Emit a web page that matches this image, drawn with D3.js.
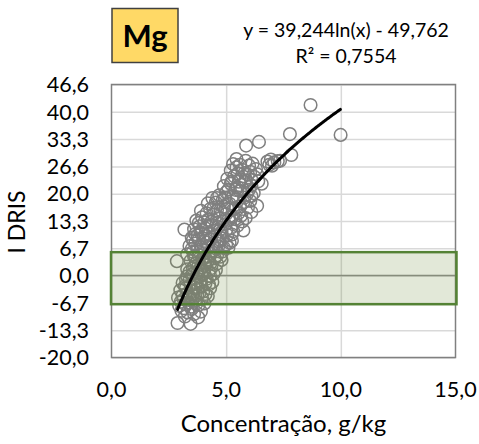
<!DOCTYPE html>
<html>
<head>
<meta charset="utf-8">
<script src="https://cdn.jsdelivr.net/npm/d3@7"></script>
<style>
  html, body { margin: 0; padding: 0; background: #fff; }
  text { font-family: Lato, "Open Sans", sans-serif; fill: #000; }
</style>
</head>
<body>
<svg id="chart" width="479" height="444"></svg>
<script>
// Mg concentration in leaf tissue (g/kg) and the matching DRIS index
const concentracao = [
  2.88, 3.45, 3.78, 3.20, 3.32, 3.60, 3.05, 3.90, 3.50, 3.15,
  2.95, 3.22, 3.48, 3.80, 4.05, 2.90, 3.15, 3.40, 3.66, 3.95, 4.20, 3.30, 3.55, 3.02, 3.85,
  3.35, 3.70, 3.10, 3.50, 3.75, 4.10,
  3.00, 3.25, 3.50, 3.75, 4.00, 4.30, 3.10, 3.40, 3.65, 3.90, 4.15, 4.40, 3.30, 3.55, 3.80, 4.05, 3.20, 3.60, 4.25,
  3.45, 3.90, 4.10, 3.25, 3.70, 4.30, 3.95,
  2.85, 3.30, 3.60, 3.85, 4.10, 4.35, 4.60, 3.45, 3.70, 3.95, 4.20, 4.50, 4.80, 3.40, 3.75, 4.00, 4.45,
  3.50, 3.55, 3.80, 4.05, 4.30, 4.55, 4.25, 3.65, 4.25, 4.75, 3.90,
  3.30, 3.55, 3.80, 4.05, 4.30, 4.55, 4.85, 5.10, 3.40, 3.65, 3.90, 4.15, 4.40, 4.70, 5.00, 5.25, 3.60, 4.00, 4.60,
  3.50, 3.75, 4.20, 4.45, 4.65, 4.90, 3.55, 3.80, 4.10, 4.35, 4.60, 4.85, 5.15, 4.05,
  3.18, 3.50, 3.75, 4.00, 4.25, 4.50, 4.80, 5.05, 5.30, 3.60, 3.85, 4.10, 4.40, 4.65, 4.95, 5.20, 5.50, 5.75, 3.90, 4.30,
  3.65, 3.95, 4.20, 4.50, 4.75, 5.00, 5.25, 3.80, 4.05, 4.35, 4.60, 4.85, 5.10, 5.40, 5.65,
  3.70, 3.95, 4.20, 4.45, 4.70, 5.00, 5.25, 5.55, 5.85, 6.10, 3.90, 4.30, 4.60, 4.90, 5.40, 5.70,
  4.15, 4.45, 4.75, 5.05, 5.30, 5.60, 5.95, 4.60, 4.95, 5.25, 5.50, 5.80, 6.10,
  4.20, 4.55, 4.85, 5.15, 5.45, 5.75, 6.05, 4.70, 5.00, 5.30, 5.60, 5.90, 6.20, 6.35, 4.40,
  5.10, 5.40, 5.70, 6.00, 5.25, 5.55, 5.85, 6.10, 5.50, 5.80, 6.05, 6.35,
  4.90, 5.20, 5.50, 5.80, 6.10, 6.40, 5.05, 5.35, 5.65, 5.95, 6.25, 6.55,
  5.20, 5.45, 5.70, 6.00, 5.30, 5.60, 5.85, 6.15, 6.30, 5.45, 6.80, 6.95, 7.10, 7.25, 6.88, 7.35, 7.00,
  5.87, 6.43, 7.78, 7.84, 8.68, 9.99
];
const idris = [
  -11.6, -11.8, -10.2, -10.0, -9.0, -9.4, -8.6, -8.8, -8.2, -8.0,
  -7.4, -7.0, -7.6, -7.2, -6.8, -5.4, -5.8, -5.2, -6.0, -5.5, -5.0, -4.4, -4.6, -6.4, -4.2,
  -6.6, -6.9, -4.9, -5.9, -4.8, -4.5,
  -3.6, -3.0, -3.8, -3.2, -3.9, -3.1, -1.8, -1.2, -2.0, -1.5, -0.8, -1.6, -0.2, 0.4, -0.3, 0.6, -2.6, -2.8, -2.2,
  -2.4, -2.6, -1.9, -0.9, -0.6, -0.1, 0.2,
  3.5, 1.5, 2.2, 1.4, 2.6, 1.8, 2.9, 3.6, 3.0, 4.0, 3.5, 4.2, 3.8, 0.9, 0.7, 1.1, 0.4,
  0.1, 1.8, 2.6, 3.2, 2.9, 1.3, 0.9, 4.5, 4.6, 4.6, 2.0,
  5.2, 5.8, 5.0, 6.3, 5.5, 6.6, 5.9, 6.8, 7.2, 7.8, 7.0, 8.1, 7.4, 8.3, 7.6, 8.5, 4.6, 4.4, 4.9,
  6.5, 6.2, 7.0, 6.1, 7.1, 6.8, 8.6, 8.8, 9.6, 8.9, 8.4, 9.0, 8.0, 5.4,
  11.2, 9.2, 9.8, 9.0, 10.2, 9.5, 10.6, 9.9, 10.8, 11.3, 12.0, 11.5, 12.3, 11.8, 12.5, 11.6, 12.2, 11.0, 10.4, 8.8,
  10.1, 11.2, 11.9, 10.9, 11.3, 11.1, 10.0, 12.8, 13.0, 13.1, 12.8, 13.2, 13.6, 13.8, 14.6,
  13.4, 14.2, 13.6, 14.8, 13.9, 15.0, 14.2, 15.3, 14.0, 15.5, 15.8, 16.2, 15.9, 16.8, 16.4, 13.2,
  15.2, 16.5, 16.0, 16.3, 16.0, 16.9, 16.6, 18.9, 19.0, 18.9, 19.1, 19.0, 19.4,
  17.6, 17.8, 18.4, 17.5, 18.6, 17.9, 18.2, 19.6, 20.3, 19.4, 20.6, 19.8, 20.1, 17.0, 18.9,
  21.0, 20.9, 21.2, 20.9, 23.0, 22.9, 23.2, 23.4, 24.9, 25.0, 25.3, 24.7,
  21.8, 22.4, 21.6, 22.8, 21.9, 23.0, 23.6, 24.2, 23.5, 24.6, 24.0, 22.4,
  25.6, 26.4, 25.8, 26.8, 27.2, 27.0, 28.0, 27.3, 26.0, 28.4, 27.8, 28.3, 27.6, 27.9, 27.0, 28.0, 26.8,
  31.7, 32.6, 34.5, 29.4, 41.6, 34.3
];

const xTicks = [0, 5, 10, 15];
const xTickLabels = ["0,0", "5,0", "10,0", "15,0"];
const yTicks = [-20, -13.34, -6.68, -0.02, 6.64, 13.3, 19.96, 26.62, 33.28, 39.94, 46.6];
const yTickLabels = ["-20,0", "-13,3", "-6,7", "0,0", "6,7", "13,3", "20,0", "26,6", "33,3", "40,0", "46,6"];

// logarithmic fit y = a ln(x) + b
const trendCoef = [39.244, -49.762];
const trendRange = [2.88, 10];
const equationLines = ["y = 39,244ln(x) - 49,762", "R² = 0,7554"];

// band of balanced DRIS index
const faixaEquilibrio = [-7.0, 5.7];

const svg = d3.select("#chart");
const plot = { left: 111.5, right: 455.5, top: 84.5, bottom: 357.5 };

const x = d3.scaleLinear().domain([0, 15]).range([plot.left, plot.right]);
const y = d3.scaleLinear().domain([-20, 46.6]).range([plot.bottom, plot.top]);

// gridlines
svg.append("g")
  .attr("transform", `translate(${plot.left},0)`)
  .call(d3.axisLeft(y).tickValues(yTicks).tickSize(-(plot.right - plot.left)).tickFormat(""))
  .call(g => g.select(".domain").remove())
  .call(g => g.selectAll("line").attr("stroke", "#d9d9d9").attr("stroke-width", 1.5));

svg.append("g")
  .attr("transform", `translate(0,${plot.bottom})`)
  .call(d3.axisBottom(x).tickValues(xTicks.slice(1, -1)).tickSize(-(plot.bottom - plot.top)).tickFormat(""))
  .call(g => g.select(".domain").remove())
  .call(g => g.selectAll("line").attr("stroke", "#d9d9d9").attr("stroke-width", 1.5));

// horizontal axis line at zero
svg.append("line")
  .attr("x1", plot.left).attr("x2", plot.right)
  .attr("y1", y(0)).attr("y2", y(0))
  .attr("stroke", "#8c8c8c").attr("stroke-width", 1.5);

// plot border
svg.append("rect")
  .attr("x", plot.left).attr("y", plot.top)
  .attr("width", plot.right - plot.left).attr("height", plot.bottom - plot.top)
  .attr("fill", "none").attr("stroke", "#808080").attr("stroke-width", 1.5);

// scatter points
svg.append("g")
  .selectAll("circle")
  .data(concentracao.map((c, i) => [c, idris[i]]))
  .join("circle")
  .attr("cx", d => x(d[0]))
  .attr("cy", d => y(d[1]))
  .attr("r", 6.3)
  .attr("fill", "none")
  .attr("stroke", "#7f7f7f")
  .attr("stroke-width", 1.5);

// balance band
svg.append("rect")
  .attr("x", x(0) - 0.5)
  .attr("y", y(faixaEquilibrio[1]))
  .attr("width", plot.right - plot.left + 1.5)
  .attr("height", y(faixaEquilibrio[0]) - y(faixaEquilibrio[1]))
  .attr("fill", "rgb(110,140,60)")
  .attr("fill-opacity", 0.2)
  .attr("stroke", "#548235")
  .attr("stroke-width", 2.5);

// trend line
const trendX = d3.range(trendRange[0], trendRange[1] + 0.001, 0.05);
svg.append("path")
  .datum(trendX)
  .attr("fill", "none")
  .attr("stroke", "#000")
  .attr("stroke-width", 3)
  .attr("stroke-linecap", "round")
  .attr("d", d3.line().x(d => x(d)).y(d => y(trendCoef[0] * Math.log(d) + trendCoef[1])));

// tick labels
svg.append("g")
  .selectAll("text")
  .data(yTicks)
  .join("text")
  .attr("x", 89)
  .attr("y", d => y(d))
  .attr("dy", "0.36em")
  .attr("text-anchor", "end")
  .style("font-size", "21.5px")
  .text((d, i) => yTickLabels[i]);

svg.append("g")
  .selectAll("text")
  .data(xTicks)
  .join("text")
  .attr("x", d => x(d))
  .attr("y", 397)
  .attr("text-anchor", "middle")
  .style("font-size", "21.5px")
  .text((d, i) => xTickLabels[i]);

// axis titles
svg.append("text")
  .attr("x", (plot.left + plot.right) / 2)
  .attr("y", 432)
  .attr("text-anchor", "middle")
  .style("font-size", "24px")
  .text("Concentração, g/kg");

svg.append("text")
  .attr("transform", "translate(25,222) rotate(-90)")
  .attr("text-anchor", "middle")
  .style("font-size", "23px")
  .text("I DRIS");

// nutrient label box
svg.append("rect")
  .attr("x", 112).attr("y", 8.5)
  .attr("width", 66).attr("height", 54)
  .attr("fill", "#ffd966")
  .attr("stroke", "#404040")
  .attr("stroke-width", 1.5);

svg.append("text")
  .attr("x", 145).attr("y", 47)
  .attr("text-anchor", "middle")
  .style("font-size", "31px")
  .style("font-weight", "bold")
  .text("Mg");

// fit equation
svg.append("g")
  .selectAll("text")
  .data(equationLines)
  .join("text")
  .attr("x", 346)
  .attr("y", (d, i) => 37 + i * 26)
  .attr("text-anchor", "middle")
  .style("font-size", "19.5px")
  .text(d => d);
</script>
</body>
</html>
